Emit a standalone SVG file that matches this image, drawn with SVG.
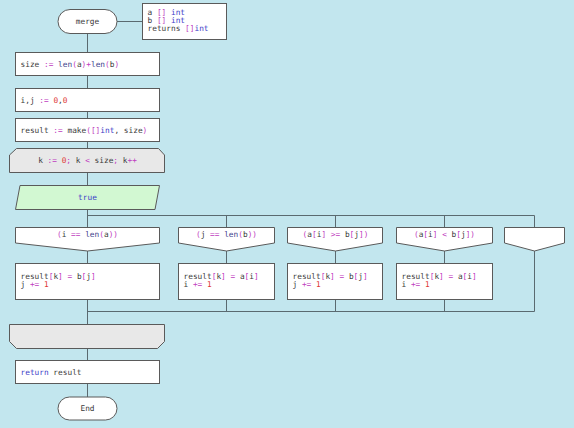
<svg xmlns="http://www.w3.org/2000/svg" width="574" height="428" viewBox="0 0 574 428">
  <style>
    .bg { fill: #c2e6ee; }
    .box { fill: #ffffff; stroke: #5a5a5a; stroke-width: 1; }
    .loop { fill: #e8e8e8; stroke: #5a5a5a; stroke-width: 1; }
    .io { fill: #d2f8d2; stroke: #5a5a5a; stroke-width: 1; }
    .wire { fill: none; stroke: #5a6a70; stroke-width: 1; }
    text { font-family: "DejaVu Sans Mono", "Liberation Mono", monospace; font-size: 7.8px; fill: #3a3a3a; }
    .c { text-anchor: middle; }
    .op { fill: #c03cc0; }
    .kw { fill: #3c3cc8; }
    .fn { fill: #40408a; }
    .num { fill: #e03838; }
  </style>

  <rect class="bg" x="0" y="0" width="574" height="428"/>

  <!-- connectors -->
  <g id="connectors">
    <path class="wire" d="M117 21.5 H142"/>
    <path class="wire" d="M87.5 33 V52 M87.5 76 V88 M87.5 112 V118 M87.5 142 V148 M87.5 173 V185 M87.5 209 V227"/>
    <path class="wire" d="M87.5 215.5 H534.5 V227 M226.5 215.5 V227 M335.5 215.5 V227 M444.5 215.5 V227"/>
    <path class="wire" d="M87.5 251 V263 M226.5 251 V263 M335.5 251 V263 M444.5 251 V263"/>
    <path class="wire" d="M87.5 300 V324 M226.5 300 V311.5 M335.5 300 V311.5 M444.5 300 V311.5 M534.5 251 V311.5 H87.5"/>
    <path class="wire" d="M87.5 348 V360 M87.5 384 V397"/>
  </g>

  <g id="start">
    <rect class="box" x="58" y="9.5" width="59" height="24" rx="12" ry="12"/>
    <text class="c" x="87.5" y="24">merge</text>
  </g>

  <g id="signature">
    <rect class="box" x="142.5" y="3.5" width="84" height="36"/>
    <text x="147.5" y="15">a <tspan class="op">[]</tspan> <tspan class="kw">int</tspan></text>
    <text x="147.5" y="23">b <tspan class="op">[]</tspan> <tspan class="kw">int</tspan></text>
    <text x="147.5" y="31">returns <tspan class="op">[]</tspan><tspan class="kw">int</tspan></text>
  </g>

  <g id="size">
    <rect class="box" x="15.5" y="52.5" width="144" height="23"/>
    <text x="20.5" y="66.5">size <tspan class="op">:=</tspan> <tspan class="fn">len</tspan><tspan class="op">(</tspan>a<tspan class="op">)+</tspan><tspan class="fn">len</tspan><tspan class="op">(</tspan>b<tspan class="op">)</tspan></text>
  </g>

  <g id="indices">
    <rect class="box" x="15.5" y="88.5" width="144" height="23"/>
    <text x="20.5" y="102.5">i,j <tspan class="op">:=</tspan> <tspan class="num">0</tspan>,<tspan class="num">0</tspan></text>
  </g>

  <g id="alloc">
    <rect class="box" x="15.5" y="118.5" width="144" height="23"/>
    <text x="20.5" y="132.5">result <tspan class="op">:=</tspan> make<tspan class="op">([]</tspan><tspan class="kw">int</tspan>, size<tspan class="op">)</tspan></text>
  </g>

  <g id="loop-head">
    <path class="loop" d="M16.5 148.5 H158.5 L164.5 155 V172.5 H9.5 V155 Z"/>
    <text class="c" x="87.5" y="163">k <tspan class="op">:=</tspan> <tspan class="num">0</tspan><tspan class="op">;</tspan> k <tspan class="op">&lt;</tspan> size<tspan class="op">;</tspan> k<tspan class="op">++</tspan></text>
  </g>

  <g id="cond">
    <path class="io" d="M20 185.5 H159.5 L155 209.5 H15.5 Z"/>
    <text class="c kw" x="87.5" y="199.5">true</text>
  </g>

  <g id="case-a">
    <path class="box" d="M15.5 227.5 H159.5 V243 L87.5 251 L15.5 243 Z"/>
    <text class="c" x="87.5" y="237"><tspan class="op">(</tspan>i <tspan class="op">==</tspan> <tspan class="fn">len</tspan><tspan class="op">(</tspan>a<tspan class="op">))</tspan></text>
  </g>
  <g id="case-b">
    <path class="box" d="M178.5 227.5 H274.5 V243 L226.5 251 L178.5 243 Z"/>
    <text class="c" x="226.5" y="237"><tspan class="op">(</tspan>j <tspan class="op">==</tspan> <tspan class="fn">len</tspan><tspan class="op">(</tspan>b<tspan class="op">))</tspan></text>
  </g>
  <g id="case-ge">
    <path class="box" d="M287.5 227.5 H382.5 V243 L335.5 251 L287.5 243 Z"/>
    <text class="c" x="335.5" y="237"><tspan class="op">(</tspan>a<tspan class="op">[</tspan>i<tspan class="op">]</tspan> <tspan class="op">&gt;=</tspan> b<tspan class="op">[</tspan>j<tspan class="op">])</tspan></text>
  </g>
  <g id="case-lt">
    <path class="box" d="M396.5 227.5 H492.5 V243 L444.5 251 L396.5 243 Z"/>
    <text class="c" x="444.5" y="237"><tspan class="op">(</tspan>a<tspan class="op">[</tspan>i<tspan class="op">]</tspan> <tspan class="op">&lt;</tspan> b<tspan class="op">[</tspan>j<tspan class="op">])</tspan></text>
  </g>
  <g id="case-default">
    <path class="box" d="M504.5 227.5 H564.5 V243 L534.5 251 L504.5 243 Z"/>
  </g>

  <g id="take-b1">
    <rect class="box" x="15.5" y="263.5" width="144" height="36"/>
    <text x="20.5" y="278.5">result<tspan class="op">[</tspan>k<tspan class="op">]</tspan> <tspan class="op">=</tspan> b<tspan class="op">[</tspan>j<tspan class="op">]</tspan></text>
    <text x="20.5" y="287">j <tspan class="op">+=</tspan> <tspan class="num">1</tspan></text>
  </g>
  <g id="take-a1">
    <rect class="box" x="178.5" y="263.5" width="96" height="36"/>
    <text x="183.5" y="278.5">result<tspan class="op">[</tspan>k<tspan class="op">]</tspan> <tspan class="op">=</tspan> a<tspan class="op">[</tspan>i<tspan class="op">]</tspan></text>
    <text x="183.5" y="287">i <tspan class="op">+=</tspan> <tspan class="num">1</tspan></text>
  </g>
  <g id="take-b2">
    <rect class="box" x="287.5" y="263.5" width="95" height="36"/>
    <text x="292.5" y="278.5">result<tspan class="op">[</tspan>k<tspan class="op">]</tspan> <tspan class="op">=</tspan> b<tspan class="op">[</tspan>j<tspan class="op">]</tspan></text>
    <text x="292.5" y="287">j <tspan class="op">+=</tspan> <tspan class="num">1</tspan></text>
  </g>
  <g id="take-a2">
    <rect class="box" x="396.5" y="263.5" width="96" height="36"/>
    <text x="401.5" y="278.5">result<tspan class="op">[</tspan>k<tspan class="op">]</tspan> <tspan class="op">=</tspan> a<tspan class="op">[</tspan>i<tspan class="op">]</tspan></text>
    <text x="401.5" y="287">i <tspan class="op">+=</tspan> <tspan class="num">1</tspan></text>
  </g>

  <g id="loop-end">
    <path class="loop" d="M9.5 324.5 H164.5 V341.5 L157.5 348.5 H16.5 L9.5 341.5 Z"/>
  </g>

  <g id="return">
    <rect class="box" x="15.5" y="360.5" width="144" height="23"/>
    <text x="20.5" y="374.5"><tspan class="kw">return</tspan> result</text>
  </g>

  <g id="end">
    <rect class="box" x="58" y="397" width="59" height="23" rx="11.5" ry="11.5"/>
    <text class="c" x="87.5" y="411">End</text>
  </g>
</svg>
